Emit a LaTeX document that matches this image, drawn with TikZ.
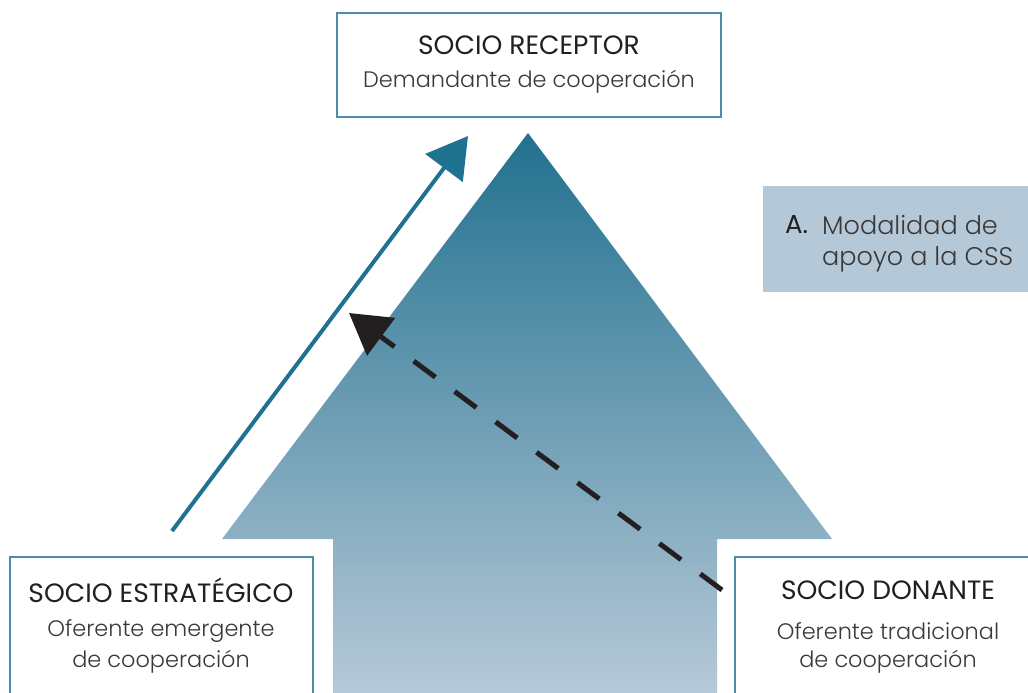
\documentclass[tikz,border=0pt]{standalone}
\usepackage{fontspec}
\setmainfont{Poppins Light}
\newfontfamily\headfont{Poppins}
\usetikzlibrary{arrows.meta}

\definecolor{arrowtop}{HTML}{22718F}
\definecolor{arrowbottom}{HTML}{B8CAD9}
\definecolor{tealline}{HTML}{1F7391}
\definecolor{boxline}{HTML}{4F8CA7}
\definecolor{legendfill}{HTML}{B4C8D7}
\definecolor{inkdark}{HTML}{231F20}
\definecolor{inksoft}{HTML}{3A3838}

\tikzset{
  partnerbox/.style={draw=boxline, line width=1.2pt, fill=white, rectangle, inner sep=0pt},
  titletext/.style={font=\headfont\fontsize{26.5}{30}\selectfont, text=inkdark, inner sep=0pt},
  subtext/.style={font=\fontsize{22.4}{27}\selectfont, text=inksoft, inner sep=0pt},
  legendtext/.style={font=\fontsize{25.5}{30}\selectfont, text=inksoft, inner sep=0pt, anchor=west},
  flowhead/.style={-{Triangle[length=40pt,width=46pt]}},
}

\begin{document}
\begin{tikzpicture}[x=1pt,y=-1pt]
  \useasboundingbox (0,0) rectangle (1028,693);
  \clip (0,0) rectangle (1028,693);

  % broad upward arrow with vertical shading
  \shade[top color=arrowtop, bottom color=arrowbottom]
    (528,133) -- (832,539) -- (717,539) -- (717,700) -- (333,700)
    -- (333,539) -- (222,539) -- cycle;

  % partner boxes
  \node[partnerbox, minimum width=384pt, minimum height=104pt] (receptor) at (529,65) {};
  \node[partnerbox, minimum width=303pt, minimum height=170pt] (estrategico) at (161.5,642) {};
  \node[partnerbox, minimum width=305pt, minimum height=170pt] (donante) at (887.5,642) {};

  \node[titletext] (receptor-t) at (529,45) {SOCIO RECEPTOR};
  \node[subtext] (receptor-s) at (529,82) {Demandante de cooperación};

  \node[titletext] (estrategico-t) at (161,590) {SOCIO ESTRATÉGICO};
  \node[subtext] (estrategico-s1) at (161,631) {Oferente emergente};
  \node[subtext] (estrategico-s2) at (161,662) {de cooperación};

  \node[titletext] (donante-t) at (888,590) {SOCIO DONANTE};
  \node[subtext] (donante-s1) at (888,631) {Oferente tradicional};
  \node[subtext] (donante-s2) at (888,662) {de cooperación};

  % legend panel
  \fill[legendfill] (763,186) rectangle (1028,292);
  \node[anchor=west, inner sep=0pt, font=\headfont\fontsize{26}{30}\selectfont, text=inkdark] (legend-a) at (785,225) {A.};
  \node[legendtext] (legend-1) at (822,225) {Modalidad de};
  \node[legendtext] (legend-2) at (822,259) {apoyo a la CSS};

  % flow arrows
  \coordinate (teal-from) at (172,531);
  \coordinate (teal-to) at (468,136);
  \draw[tealline, line width=4pt, flowhead] (teal-from) -- (teal-to);

  \coordinate (dash-from) at (722,590);
  \coordinate (dash-to) at (349,313);
  \draw[inkdark, line width=5pt, dash pattern=on 27pt off 24pt, flowhead] (dash-from) -- (dash-to);
\end{tikzpicture}
\end{document}
